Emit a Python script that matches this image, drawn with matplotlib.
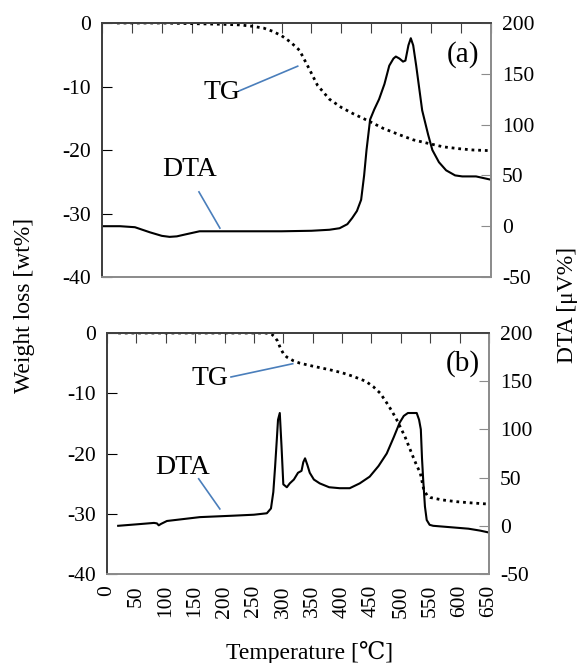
import matplotlib
matplotlib.use("Agg")
import matplotlib.pyplot as plt

plt.rcParams['font.family'] = ['Liberation Serif', 'DejaVu Serif', 'Noto Sans CJK JP']
plt.rcParams['font.size'] = 15.5
plt.rcParams['axes.unicode_minus'] = False

# =============================
# (a) TG / DTA
# =============================
tg_a_t = [25, 50, 100, 150, 200, 230, 250, 270, 285, 300, 315, 330, 345, 360,
          380, 400, 420, 447, 470, 497, 520, 547, 570, 597, 620, 648]
tg_a_w = [0, 0, 0, -0.1, -0.2, -0.3, -0.5, -0.8, -1.3, -2.0, -3.0, -4.3, -7.0, -9.8,
          -12.0, -13.3, -14.3, -15.5, -16.6, -17.6, -18.4, -19.0, -19.5, -19.8, -20.0, -20.1]

dta_a_t = [0, 30, 55, 80, 100, 113, 125, 140, 163, 200, 250, 300, 350, 380, 397, 410,
           418, 426, 433, 438, 442, 448, 455, 463, 472, 480, 487, 491, 497, 503, 507,
           512, 516, 520, 525, 535, 545, 552, 563, 575, 590, 602, 625, 648]
dta_a_v = [0, 0, -1, -6, -9.5, -10.5, -10, -8, -5, -5, -5, -5, -4.5, -3.5, -2, 2,
           8, 15, 26, 50, 75, 105, 115, 125, 140, 158, 165, 167, 165, 162, 163,
           178, 185, 178, 158, 114, 90, 75, 63, 55, 50, 49, 49, 46]

# =============================
# (b) TG / DTA
# =============================
tg_b_t = [19, 100, 200, 270, 280, 285, 290, 295, 300, 306, 317, 328, 350, 379, 400,
          419, 440, 453, 465, 476, 485, 493, 500, 507, 514, 521, 527, 533, 539, 545,
          550, 570, 595, 620, 650]
tg_b_w = [0, 0, 0, 0, -0.2, -0.6, -1.3, -2.5, -3.4, -4.0, -4.6, -5.0, -5.5, -6.1, -6.6,
          -7.2, -8.0, -8.9, -10.0, -11.6, -13.0, -14.4, -15.8, -17.2, -18.9, -20.6, -22.0,
          -23.2, -26.0, -27.0, -27.3, -27.7, -28.0, -28.2, -28.4]

dta_b_t = [19, 50, 80, 85, 88, 92, 102, 130, 158, 215, 250, 272, 279, 283, 286, 289,
           291, 294, 297, 300, 306, 311, 318, 325, 331, 334, 337, 341, 345, 352, 362,
           378, 396, 413, 430, 447, 462, 476, 488, 498, 505, 512, 520, 527, 531, 534,
           536, 538, 541, 544, 549, 555, 575, 595, 615, 635, 650]
dta_b_v = [0, 1.5, 3, 2.5, 0.5, 2, 5, 7, 9, 10.5, 11.5, 13, 18, 35, 61, 90,
           110, 117, 82, 43, 40, 44, 48, 55, 57, 66, 70, 63, 55, 48, 44,
           40, 39, 39, 44, 51, 62, 75, 92, 107, 114, 117, 117, 117, 110, 100,
           70, 48, 20, 6, 1, 0, -1, -2, -3, -5, -7]

x_ticks = list(range(0, 651, 50))
w_ticks = [0, -10, -20, -30, -40]
v_ticks = [-50, 0, 50, 100, 150, 200]

BLUE = "#4a7ebb"
DARK = "#404040"
GREY = "#8c8c8c"

W, H = 580, 663
fig = plt.figure(figsize=(W / 100, H / 100), dpi=100)


def painel(rect, tg_t, tg_w, dta_t, dta_v, letra, tg_txt, tg_lin, dta_txt, dta_lin, rotulos):
    ax = fig.add_axes(rect)
    ax2 = ax.twinx()

    ax.plot(tg_t, tg_w, color="black", lw=2, linestyle=(0, (1, 1.4)))
    ax2.plot(dta_t, dta_v, color="black", lw=1.5)

    ax.set_xlim(0, 650)
    ax.set_ylim(-40, 0)
    ax2.set_ylim(-50, 200)
    ax.set_xticks(x_ticks)
    ax.set_yticks(w_ticks)
    ax2.set_yticks(v_ticks)

    ax.tick_params(axis='x', bottom=False, top=True, direction='in', length=7,
                   labelbottom=rotulos, labelrotation=90, pad=8, color=DARK)
    ax.tick_params(axis='y', direction='in', length=7, color="black", pad=8)
    ax2.tick_params(axis='y', direction='in', length=7, color=GREY, pad=8)

    for s in ["left", "top"]:
        ax.spines[s].set_color(DARK)
        ax2.spines[s].set_color(DARK)
    for s in ["right", "bottom"]:
        ax.spines[s].set_color(GREY)
        ax2.spines[s].set_color(GREY)
    for a in (ax, ax2):
        for s in a.spines.values():
            s.set_linewidth(1.3)

    ax.text(*letra[1:], letra[0], fontsize=21, ha="center", va="center")
    ax.text(*tg_txt, "TG", fontsize=20, ha="center", va="center")
    ax.text(*dta_txt, "DTA", fontsize=20, ha="center", va="center")
    ax.plot(*tg_lin, color=BLUE, lw=1.2)
    ax.plot(*dta_lin, color=BLUE, lw=1.2)
    return ax, ax2


painel([102 / W, 1 - 277 / H, 389 / W, 254 / H], tg_a_t, tg_a_w, dta_a_t, dta_a_v,
       ("(a)", 603, -5.0), (200, -11.0), ([229, 327], [-10.7, -6.8]),
       (147, -23.1), ([162, 197], [-26.6, -32.3]), False)

painel([107 / W, 1 - 574 / H, 382 / W, 241 / H], tg_b_t, tg_b_w, dta_b_t, dta_b_v,
       ("(b)", 606, -5.0), (175, -7.5), ([211, 316], [-7.3, -5.1]),
       (129, -22.4), ([156, 192], [-24.2, -29.2]), True)

fig.text(25 / W, 1 - 305 / H, "Weight loss [wt%]", rotation=90, ha="center", va="center", fontsize=17)
fig.text(568 / W, 1 - 305 / H, "DTA [μV%]", rotation=90, ha="center", va="center", fontsize=17)
fig.text(310 / W, 1 - 653 / H, "Temperature [℃]", ha="center", va="center", fontsize=17)

fig.savefig("out.png", dpi=100)
